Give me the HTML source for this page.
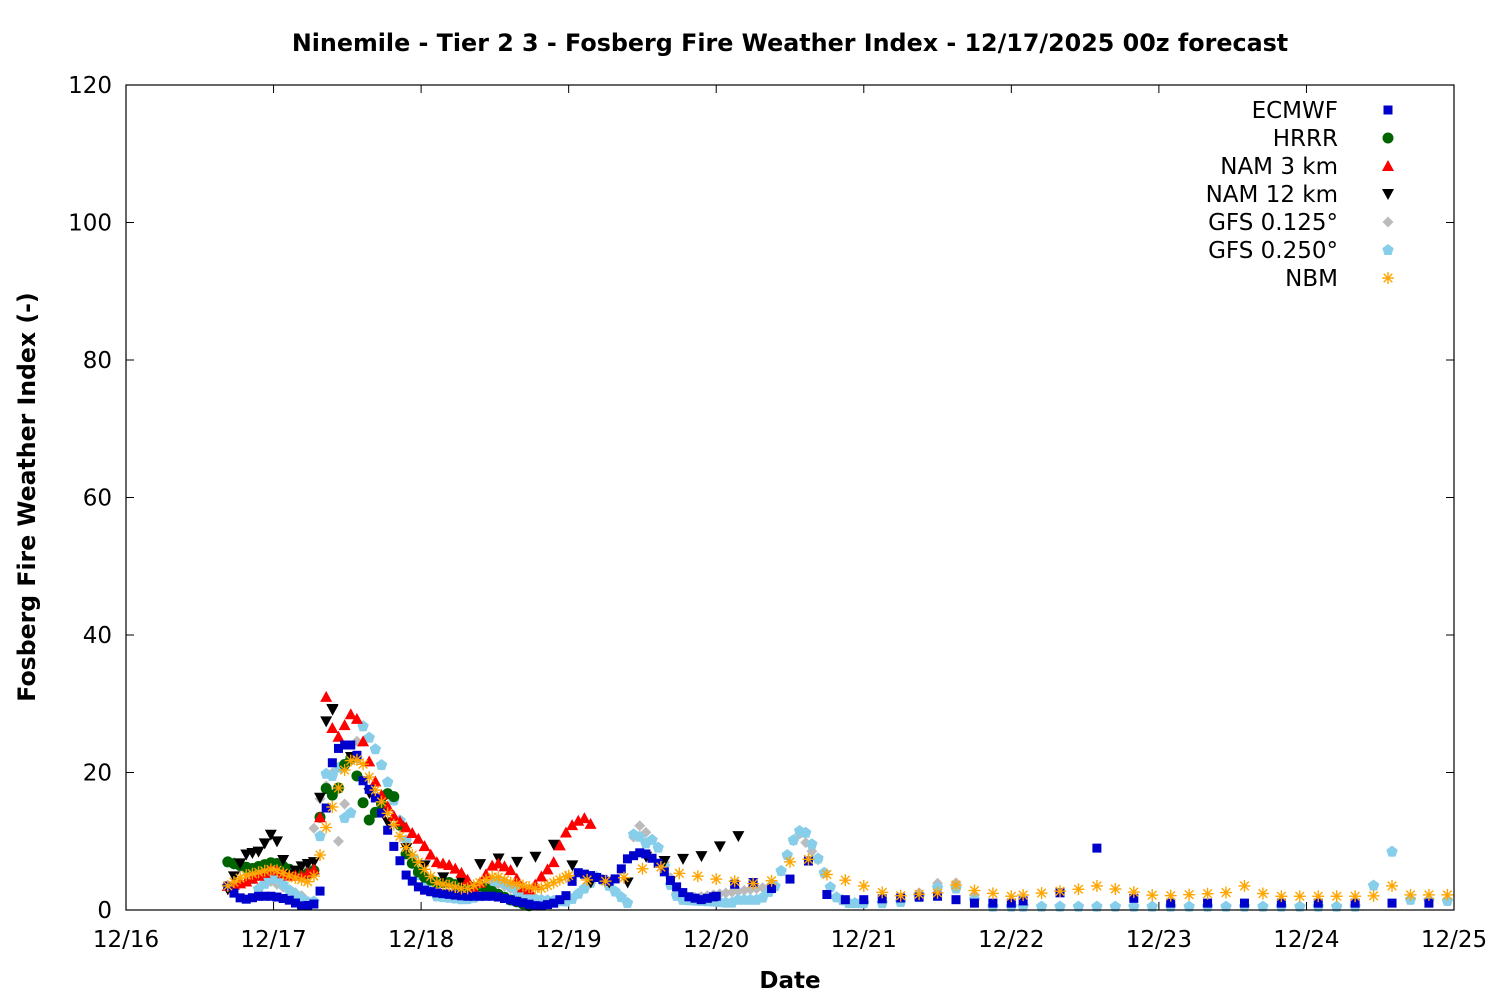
<!DOCTYPE html>
<html><head><meta charset="utf-8"><style>
body{margin:0;background:#fff;}
svg{display:block;font-family:"DejaVu Sans","Liberation Sans",sans-serif;}
</style></head><body>
<svg id="s" width="1500" height="1000" xmlns="http://www.w3.org/2000/svg">
<rect width="1500" height="1000" fill="#fff"/>
<text x="790" y="51" text-anchor="middle" font-size="23.8" font-weight="bold">Ninemile - Tier 2 3 - Fosberg Fire Weather Index - 12/17/2025 00z forecast</text>
<text x="790" y="988" text-anchor="middle" font-size="23" font-weight="bold">Date</text>
<text transform="translate(35,497) rotate(-90)" text-anchor="middle" font-size="23.6" font-weight="bold">Fosberg Fire Weather Index (-)</text>
<g id="axes"></g>
<g id="pts"></g>
<rect x="126" y="85" width="1328" height="825" fill="none" stroke="#000" stroke-width="1.2"/>
<g id="leg" font-size="23"></g>
</svg>
<script>
const X0=126,X1=1454,Y0=910,Y1=85;
const xs=d=>X0+(X1-X0)*d/9, ys=v=>Y0-(Y0-Y1)*v/120;
let ax="";
for(let v=0;v<=120;v+=20){const y=ys(v);
ax+=`<line x1="${X0}" y1="${y}" x2="${X0+8}" y2="${y}" stroke="#000"/><line x1="${X1}" y1="${y}" x2="${X1-8}" y2="${y}" stroke="#000"/>`;
ax+=`<text x="${X0-14}" y="${y+8}" text-anchor="end" font-size="23">${v}</text>`;}
for(let d=0;d<=9;d++){const x=xs(d);
ax+=`<line x1="${x}" y1="${Y0}" x2="${x}" y2="${Y0-8}" stroke="#000"/><line x1="${x}" y1="${Y1}" x2="${x}" y2="${Y1+8}" stroke="#000"/>`;
ax+=`<text x="${x}" y="${Y0+37}" text-anchor="middle" font-size="23">12/${16+d}</text>`;}
document.getElementById("axes").innerHTML=ax;
function interp(k,d){if(d<=k[0][0])return k[0][1];for(let i=1;i<k.length;i++){if(d<=k[i][0]){const a=k[i-1],b=k[i];return a[1]+(b[1]-a[1])*(d-a[0])/(b[0]-a[0]);}}return k[k.length-1][1];}
function mk(t,x,y){
 switch(t){
 case"sq":return `<rect x="${x-4.5}" y="${y-4.5}" width="9" height="9" fill="#0000cc"/>`;
 case"ci":return `<circle cx="${x}" cy="${y}" r="5.5" fill="#006400"/>`;
 case"tu":return `<polygon points="${x},${y-6} ${x-6},${y+5} ${x+6},${y+5}" fill="#ff0000"/>`;
 case"td":return `<polygon points="${x},${y+6} ${x-6},${y-5} ${x+6},${y-5}" fill="#000"/>`;
 case"di":return `<polygon points="${x},${y-5.5} ${x+5.5},${y} ${x},${y+5.5} ${x-5.5},${y}" fill="#bbbbbb"/>`;
 case"pe":return `<polygon points="${x},${y-6} ${x+5.7},${y-1.8} ${x+3.5},${y+5} ${x-3.5},${y+5} ${x-5.7},${y-1.8}" fill="#87ceeb"/>`;
 case"as":return `<g stroke="#ffa500" stroke-width="1.4"><line x1="${x-6}" y1="${y}" x2="${x+6}" y2="${y}"/><line x1="${x}" y1="${y-6}" x2="${x}" y2="${y+6}"/><line x1="${x-4.3}" y1="${y-4.3}" x2="${x+4.3}" y2="${y+4.3}"/><line x1="${x-4.3}" y1="${y+4.3}" x2="${x+4.3}" y2="${y-4.3}"/></g>`;}
}
const H=1/24;
function sample(k,segs){const out=[];for(const [a,b,st] of segs){for(let d=a;d<=b+1e-9;d+=st)out.push([d,interp(k,d)]);}return out;}
const S0=0.69;
const ecm=[[0.69,3.5],[0.75,2],[0.8,1.5],[0.9,2],[1.0,2],[1.1,1.5],[1.2,0.5],[1.3,1],[1.33,4.5],[1.37,20],[1.45,24],[1.55,24],[1.6,19],[1.7,16],[1.8,10],[1.9,5],[2.0,3],[2.1,2.5],[2.3,2],[2.5,2],[2.7,1],[2.8,0.5],[2.9,1],[2.98,2],[3.05,5.5],[3.15,5],[3.3,4],[3.4,7.5],[3.5,8.5],[3.6,7],[3.7,4],[3.8,2],[3.9,1.5],[4.0,2],[4.1,3.5],[4.2,4.5],[4.3,3.5],[4.4,3],[4.5,4.5],[4.6,8.5],[4.7,3],[4.8,1.5],[5.0,1.5],[5.5,2],[5.75,1],[6.0,1],[6.25,2],[6.33,2.5],[6.45,4],[6.58,9],[6.7,3],[6.9,1],[9,1]];
const hrrr=[[0.69,7],[0.85,6],[1.0,7],[1.1,6],[1.2,5],[1.3,6],[1.33,21],[1.37,16],[1.45,18],[1.5,23],[1.55,21],[1.6,16],[1.65,13],[1.75,16],[1.8,18],[1.85,13],[1.9,8],[2.0,5],[2.1,4],[2.2,4],[2.3,3],[2.4,3.5],[2.5,2.5],[2.6,1.5],[2.75,0.5]];
const nam3=[[0.69,3.5],[0.8,4],[0.9,5],[1.0,6],[1.1,5],[1.2,5],[1.28,6],[1.3,3],[1.33,24],[1.37,34.5],[1.4,26],[1.45,25],[1.5,28],[1.55,29],[1.6,25],[1.7,18],[1.8,14],[1.9,12],[2.0,10],[2.1,7],[2.2,6.5],[2.3,5],[2.35,3],[2.4,4],[2.5,7],[2.6,6],[2.7,3],[2.75,3],[2.8,4.5],[2.9,7],[2.95,10],[3.0,12],[3.1,13.5],[3.15,12.5]];
const nam12=[[0.69,3],[0.8,8],[0.9,8.5],[1.0,11.5],[1.1,5],[1.2,6.5],[1.28,7],[1.37,31],[1.45,26],[1.55,21],[1.6,19],[1.7,15],[1.8,12],[1.9,9],[2.0,7],[2.1,5],[2.3,4],[2.45,8],[2.6,7],[2.75,7],[2.85,10],[2.95,9],[3.1,4],[3.2,4],[3.4,4],[3.5,8],[3.6,7],[3.8,7.5],[3.95,8],[4.1,10.5],[4.2,11]];
const g25=[[0.69,7],[0.8,6.5],[0.9,3],[1.0,5],[1.1,3],[1.2,1.5],[1.25,1],[1.3,1.5],[1.33,20],[1.4,19.5],[1.45,21],[1.5,9],[1.55,20],[1.6,27],[1.7,23],[1.8,17],[1.9,10],[2.0,4],[2.1,2],[2.3,1.5],[2.4,2],[2.5,4.5],[2.6,3.5],[2.7,2],[2.8,1.5],[3.0,1.2],[3.1,3],[3.2,5],[3.3,3],[3.4,1],[3.45,13.5],[3.5,9],[3.55,10.5],[3.6,9.5],[3.7,3],[3.75,1.5],[4.0,1.2],[4.1,1],[4.15,1.5],[4.3,1.5],[4.4,3.5],[4.5,9],[4.55,11.5],[4.6,11.5],[4.65,9.5],[4.7,7],[4.8,2],[4.9,1],[5.2,1],[5.35,1.5],[5.45,3],[5.55,3.5],[5.65,3],[5.75,1.5],[5.85,0.5],[6.0,0.5],[8.35,0.5],[8.47,4],[8.58,8.5],[8.7,1.5],[9,1.3]];
const g125k=[[0.69,7],[1.2,2],[1.3,15.5],[1.4,20],[1.45,7.5],[1.5,20],[1.6,27],[1.7,23],[1.8,17],[1.9,10],[2.0,4],[2.1,2],[2.5,4],[2.8,1.5],[3.0,1.2],[3.1,3],[3.2,5],[3.3,3],[3.4,1],[3.45,13],[3.6,9.5],[3.75,1.5],[4.4,3.5],[4.55,11.5],[4.7,7],[4.8,2],[4.9,1],[5.3,1.5],[5.45,3.5],[5.58,4.5],[5.7,3],[5.85,0.5],[8.35,0.5],[8.47,4],[8.58,8.5],[8.7,1.5],[9,1.3]];
const nbm=[[0.69,3.5],[0.8,5],[1.0,6],[1.1,5],[1.25,4],[1.3,6],[1.33,10],[1.37,13],[1.42,16.5],[1.5,21.5],[1.55,22],[1.6,21.5],[1.7,17],[1.8,13],[1.9,9],[2.0,6.5],[2.1,4],[2.3,3],[2.4,4],[2.5,5],[2.6,4],[2.7,3.5],[2.8,3],[3.0,5],[3.2,4],[3.45,5],[3.55,7],[3.7,5.5],[3.85,5],[4.0,4.5],[4.2,4],[4.35,3.5],[4.45,6.5],[4.6,8],[4.7,5.5],[4.85,4.5],[5.0,3.5],[5.2,2],[5.5,2.5],[5.58,4],[5.7,3],[6.0,2],[6.45,3],[6.58,3.5],[7.0,2],[7.45,2.5],[7.58,3.5],[7.75,2],[8.45,2],[8.58,3.5],[8.7,2.2],[9,2.2]];
let p="";
function draw(t,pts){for(const [d,v] of pts){p+=mk(t,xs(d),ys(Math.max(v,0.3)));}}
draw("di",sample(g125k,[[S0,5.0,H],[5.0,6.0,3*H],[6.08,9,0.125]]));
draw("pe",sample(g25,[[S0,5.0,H],[5.0,6.0,3*H],[6.08,9,0.125]]));
draw("ci",sample(hrrr,[[S0,2.75,H]]));
draw("td",sample(nam12,[[S0,1.4,H],[1.4,4.2,3*H]]));
draw("tu",sample(nam3,[[S0,3.15,H]]));
draw("sq",sample(ecm,[[S0,4.0,H],[4.0,6.0,3*H],[6.08,9,0.25]]));
draw("as",sample(nbm,[[S0,3.0,H],[3.0,6.0,3*H],[6.08,9,0.125]]));
document.getElementById("pts").innerHTML=p;
const L=[["ECMWF","sq"],["HRRR","ci"],["NAM 3 km","tu"],["NAM 12 km","td"],["GFS 0.125°","di"],["GFS 0.250°","pe"],["NBM","as"]];
let lg="";L.forEach((l,i)=>{const y=110+28*i;lg+=`<text x="1338" y="${y+8}" text-anchor="end">${l[0]}</text>`+mk(l[1],1388,y);});
document.getElementById("leg").innerHTML=lg;
</script>
</body></html>
